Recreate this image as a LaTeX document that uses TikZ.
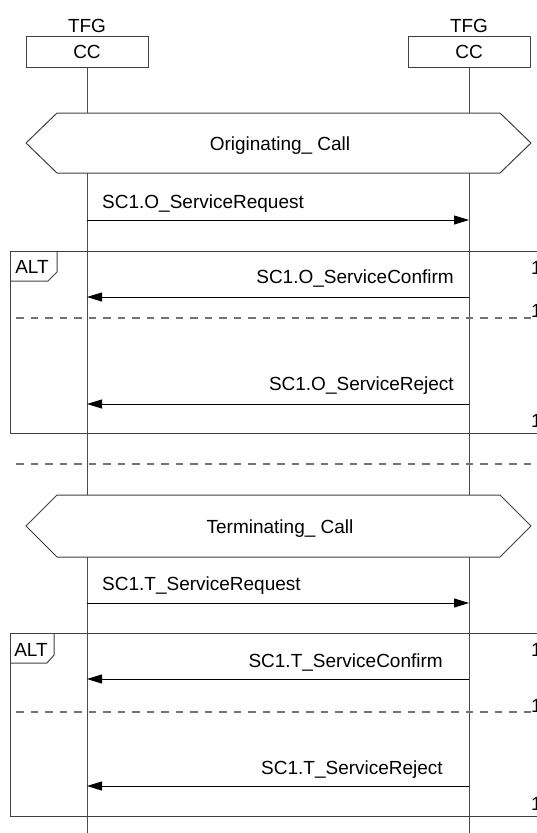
\documentclass[tikz,border=0pt]{standalone}
\usepackage{fontspec}
\setmainfont{Liberation Sans}
\usetikzlibrary{arrows.meta}

\tikzset{
  hdr/.style={draw=black!75,fill=white,line width=1pt,minimum width=122pt,minimum height=31pt,inner sep=0pt},
  life/.style={draw=black!70,line width=1pt},
  frm/.style={draw=black!75,line width=1pt},
  msg/.style={draw=black,line width=1pt,-{Triangle[length=15pt,width=9pt]}},
  sep/.style={draw=black!55,line width=1.3pt,dash pattern=on 7.5pt off 7pt},
  txt/.style={anchor=base,inner sep=0pt},
}

\begin{document}
\begin{tikzpicture}[x=1pt,y=-1pt,font=\fontsize{19}{22}\selectfont]
  \useasboundingbox (0,0) rectangle (537,833);
  \def\xa{87}
  \def\xb{469}
  % lifelines
  \coordinate (enda) at (\xa,833);
  \coordinate (endb) at (\xb,833);
  \node[hdr] (cca) at (\xa,51.5) {CC};
  \node[hdr] (ccb) at (\xb,51.5) {CC};
  \node[txt] (tfga) at (\xa,32) {TFG};
  \node[txt] (tfgb) at (\xb,32) {TFG};
  \draw[life] (cca) -- (enda);
  \draw[life] (ccb) -- (endb);
  % originating call
  \draw[frm,fill=white] (26,143) -- (57,113) -- (500,113) -- (531,143) -- (500,173) -- (57,173) -- cycle;
  \node[txt] (orig) at (280,150) {Originating\_ Call};
  \coordinate (oa1) at (\xa,220);
  \coordinate (ob1) at (\xb,220);
  \draw[msg] (oa1) -- (ob1);
  \node[txt,anchor=base west] (oreq) at (102,208.5) {SC1.O\_ServiceRequest};
  % alt 1
  \draw[frm] (10,251) rectangle (545,433);
  \draw[frm] (10,281) -- (48,281) -- (57,272) -- (57,251);
  \node[txt] (alta) at (32,273) {ALT};
  \coordinate (oa2) at (\xa,297);
  \coordinate (ob2) at (\xb,297);
  \draw[msg] (ob2) -- (oa2);
  \node[txt,anchor=base east] (ocnf) at (454,283.5) {SC1.O\_ServiceConfirm};
  \draw[sep] (16,318) -- (537,318);
  \coordinate (oa3) at (\xa,404);
  \coordinate (ob3) at (\xb,404);
  \draw[msg] (ob3) -- (oa3);
  \node[txt,anchor=base east] (orej) at (454,390) {SC1.O\_ServiceReject};
  \node[txt,anchor=base west] (na1) at (531,274) {1};
  \node[txt,anchor=base west] (na2) at (531,317) {1};
  \node[txt,anchor=base west] (na3) at (531,427) {1};
  % separator
  \draw[sep] (16,464) -- (537,464);
  % terminating call
  \draw[frm,fill=white] (26,526) -- (57,495) -- (500,495) -- (531,526) -- (500,557) -- (57,557) -- cycle;
  \node[txt] (term) at (280,533) {Terminating\_ Call};
  \coordinate (ta1) at (\xa,603);
  \coordinate (tb1) at (\xb,603);
  \draw[msg] (ta1) -- (tb1);
  \node[txt,anchor=base west] (treq) at (102,590) {SC1.T\_ServiceRequest};
  % alt 2
  \draw[frm] (10,633) rectangle (545,816);
  \draw[frm] (10,663) -- (47,663) -- (54,655) -- (54,633);
  \node[txt] (altb) at (31,656) {ALT};
  \coordinate (ta2) at (\xa,679);
  \coordinate (tb2) at (\xb,679);
  \draw[msg] (tb2) -- (ta2);
  \node[txt,anchor=base east] (tcnf) at (443,667) {SC1.T\_ServiceConfirm};
  \draw[sep] (16,712) -- (537,712);
  \coordinate (ta3) at (\xa,786);
  \coordinate (tb3) at (\xb,786);
  \draw[msg] (tb3) -- (ta3);
  \node[txt,anchor=base east] (trej) at (443,774) {SC1.T\_ServiceReject};
  \node[txt,anchor=base west] (nb1) at (531,656) {1};
  \node[txt,anchor=base west] (nb2) at (531,712) {1};
  \node[txt,anchor=base west] (nb3) at (531,810) {1};
\end{tikzpicture}
\end{document}
